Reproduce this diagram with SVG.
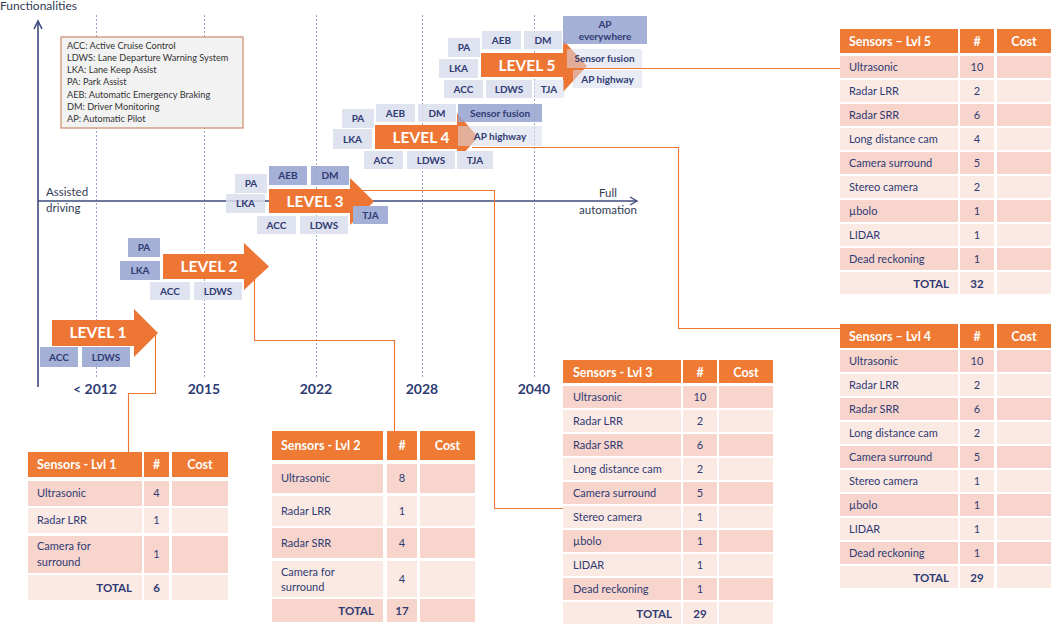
<svg xmlns="http://www.w3.org/2000/svg" width="1053" height="625" viewBox="0 0 1053 625">
<style>
text{font-family:Lato,"Liberation Sans",sans-serif}
.grid{stroke:#9aa3c4;stroke-width:1;stroke-dasharray:2 2;fill:none}
.axis{stroke:#3d4a7e;stroke-width:1.6;fill:none}
.lbl{font-size:11.5px;fill:#333a55}
.yr{font-size:14px;font-weight:bold;fill:#2f3b73;text-anchor:middle}
.m{fill:#95a2d0;fill-opacity:.85}
.l{fill:#d9ddec;fill-opacity:.85}
.ov{fill:#d9ddec;fill-opacity:.55}
.bt{font-size:10px;font-weight:bold;fill:#2f3b73;text-anchor:middle}
.arr{fill:#ee7634}
.lvl{font-size:15.5px;font-weight:bold;fill:#fff;text-anchor:middle}
.conn{stroke:#ed7430;stroke-width:1.1;fill:none}
.th{fill:#ee7a33}
.d{fill:#f8d5cc}
.s{fill:#fbe9e4}
.tht{font-size:12.5px;font-weight:bold;fill:#fff}
.thc{font-size:12.5px;font-weight:bold;fill:#fff;text-anchor:middle}
.td{font-size:11px;fill:#2f3b73}
.tn{font-size:11px;fill:#2f3b73;text-anchor:middle}
.tot{font-size:11.5px;font-weight:bold;fill:#2f3b73;text-anchor:end}
.totn{font-size:11.5px;font-weight:bold;fill:#2f3b73;text-anchor:middle}
.lg{font-size:9.2px;fill:#333}
</style>

<g id="axes">
  <line class="grid" x1="96.5" y1="15" x2="96.5" y2="378"/>
  <line class="grid" x1="204.5" y1="15" x2="204.5" y2="378"/>
  <line class="grid" x1="316.5" y1="15" x2="316.5" y2="378"/>
  <line class="grid" x1="422.5" y1="15" x2="422.5" y2="378"/>
  <line class="grid" x1="534.5" y1="15" x2="534.5" y2="378"/>
  <line class="axis" x1="38" y1="387" x2="38" y2="23"/>
  <path d="M34,29 L38,21 L42,29" fill="none" stroke="#3d4a7e" stroke-width="1.6"/>
  <line class="axis" x1="38" y1="201" x2="636" y2="201"/>
  <path d="M630,197 L637,201 L630,205" fill="none" stroke="#3d4a7e" stroke-width="1.4"/>
  <text class="lbl" x="0" y="10" style="font-size:12px">Functionalities</text>
  <text class="lbl" x="46" y="196">Assisted</text>
  <text class="lbl" x="46" y="212">driving</text>
  <text class="lbl" x="608" y="197" text-anchor="middle">Full</text>
  <text class="lbl" x="608" y="214" text-anchor="middle">automation</text>
  <text class="yr" x="95" y="394">&lt; 2012</text>
  <text class="yr" x="204" y="394">2015</text>
  <text class="yr" x="316" y="394">2022</text>
  <text class="yr" x="422" y="394">2028</text>
  <text class="yr" x="534" y="394">2040</text>
</g>

<g id="connectors">
  <path class="conn" d="M155.5,335 V393.5 H128.5 V452"/>
  <path class="conn" d="M254.5,280 V340.5 H394.5 V431"/>
  <path class="conn" d="M360,190.5 H494.5 V508.5 H565"/>
  <path class="conn" d="M472,147.5 H678.5 V328.5 H840"/>
  <path class="conn" d="M580,68.5 H840"/>
</g>

<g id="legend">
  <rect x="61" y="37" width="182" height="91" fill="#f2f2f2" stroke="#c98a66" stroke-width="1.2"/>
  <text class="lg" x="67" y="49">ACC: Active Cruise Control</text>
  <text class="lg" x="67" y="61">LDWS: Lane Departure Warning System</text>
  <text class="lg" x="67" y="73">LKA: Lane Keep Assist</text>
  <text class="lg" x="67" y="85">PA: Park Assist</text>
  <text class="lg" x="67" y="98">AEB: Automatic Emergency Braking</text>
  <text class="lg" x="67" y="110">DM: Driver Monitoring</text>
  <text class="lg" x="67" y="122">AP: Automatic Pilot</text>
</g>

<g id="level1">
  <polygon class="arr" points="52,320 134,320 134,309 158,333 134,357 134,346 52,346"/>
  <text class="lvl" x="98" y="338">LEVEL 1</text>
  <rect class="m" x="40" y="347" width="38" height="20"/><text class="bt" x="59" y="360.5">ACC</text>
  <rect class="m" x="82" y="347" width="48" height="20"/><text class="bt" x="106" y="360.5">LDWS</text>
</g>

<g id="level2">
  <polygon class="arr" points="163,254 244,254 244,243 269,266.5 244,290 244,279 163,279"/>
  <text class="lvl" x="209" y="272">LEVEL 2</text>
  <rect class="m" x="128" y="238" width="32" height="19"/><text class="bt" x="144" y="251">PA</text>
  <rect class="m" x="120" y="261" width="40" height="19"/><text class="bt" x="140" y="274">LKA</text>
  <rect class="l" x="150" y="282" width="40" height="18"/><text class="bt" x="170" y="294.5">ACC</text>
  <rect class="l" x="194" y="282" width="48" height="18"/><text class="bt" x="218" y="294.5">LDWS</text>
</g>

<g id="level3">
  <polygon class="arr" points="269,189 350,189 350,178 374,201.5 350,225 350,213 269,213"/>
  <text class="lvl" x="315" y="207">LEVEL 3</text>
  <rect class="l" x="235" y="174" width="32" height="19"/><text class="bt" x="251" y="187">PA</text>
  <rect class="m" x="269" y="166" width="38" height="19"/><text class="bt" x="288" y="179">AEB</text>
  <rect class="m" x="311" y="166" width="38" height="19"/><text class="bt" x="330" y="179">DM</text>
  <rect class="l" x="226" y="194" width="39" height="19"/><text class="bt" x="245.5" y="207">LKA</text>
  <rect class="l" x="257" y="216" width="39" height="18"/><text class="bt" x="276.5" y="228.5">ACC</text>
  <rect class="l" x="300" y="216" width="48" height="18"/><text class="bt" x="324" y="228.5">LDWS</text>
  <rect x="353" y="206" width="35" height="18" fill="#a5b0d7"/><text class="bt" x="370.5" y="218.5">TJA</text>
</g>

<g id="level4">
  <polygon class="arr" points="375,125 457,125 457,113 478,137 457,161 457,149 375,149"/>
  <text class="lvl" x="421" y="143">LEVEL 4</text>
  <rect class="l" x="342" y="109" width="32" height="19"/><text class="bt" x="358" y="122">PA</text>
  <rect class="l" x="376" y="104" width="39" height="18"/><text class="bt" x="395.5" y="116.5">AEB</text>
  <rect class="l" x="418" y="104" width="38" height="18"/><text class="bt" x="437" y="116.5">DM</text>
  <rect class="m" x="458" y="104" width="84" height="18"/><text class="bt" x="500" y="116.5">Sensor fusion</text>
  <rect class="l" x="333" y="129" width="39" height="20"/><text class="bt" x="352.5" y="142.5">LKA</text>
  <rect class="ov" x="458" y="126" width="84" height="20"/><text class="bt" x="500" y="139.5">AP highway</text>
  <rect class="l" x="364" y="151" width="39" height="18"/><text class="bt" x="383.5" y="163.5">ACC</text>
  <rect class="l" x="407" y="151" width="48" height="18"/><text class="bt" x="431" y="163.5">LDWS</text>
  <rect x="457" y="151" width="36" height="18" fill="#dfe2ef"/><text class="bt" x="475" y="163.5">TJA</text>
</g>

<g id="level5">
  <polygon class="arr" points="481,53 563,53 563,40 587,66 563,92 563,77 481,77"/>
  <text class="lvl" x="527" y="71">LEVEL 5</text>
  <rect class="m" x="563" y="16" width="84" height="28"/><text class="bt" x="605" y="28">AP</text><text class="bt" x="605" y="40">everywhere</text>
  <rect class="l" x="448" y="38" width="32" height="19"/><text class="bt" x="464" y="51">PA</text>
  <rect class="l" x="482" y="31" width="39" height="18"/><text class="bt" x="501.5" y="43.5">AEB</text>
  <rect class="l" x="524" y="31" width="38" height="18"/><text class="bt" x="543" y="43.5">DM</text>
  <rect class="l" x="439" y="59" width="39" height="19"/><text class="bt" x="458.5" y="72">LKA</text>
  <rect class="ov" x="567" y="49" width="75" height="19"/><text class="bt" x="604.5" y="62">Sensor fusion</text>
  <rect class="ov" x="573" y="70" width="69" height="18"/><text class="bt" x="607.5" y="82.5">AP highway</text>
  <rect class="l" x="444" y="80" width="39" height="18"/><text class="bt" x="463.5" y="92.5">ACC</text>
  <rect class="l" x="486" y="80" width="46" height="18"/><text class="bt" x="509" y="92.5">LDWS</text>
  <rect class="ov" x="534" y="80" width="30" height="18"/><text class="bt" x="549" y="92.5">TJA</text>
</g>

<g id="table1">
  <rect class="th" x="28" y="452" width="114" height="25"/><rect class="th" x="144" y="452" width="25" height="25"/><rect class="th" x="172" y="452" width="56" height="25"/>
  <text class="tht" x="37" y="469">Sensors - Lvl 1</text><text class="thc" x="156.5" y="469">#</text><text class="thc" x="200" y="469">Cost</text>
  <rect class="d" x="28" y="481" width="114" height="25"/><rect class="d" x="144" y="481" width="25" height="25"/><rect class="d" x="172" y="481" width="56" height="25"/>
  <text class="td" x="37" y="497">Ultrasonic</text><text class="tn" x="156.5" y="497">4</text>
  <rect class="s" x="28" y="508" width="114" height="25"/><rect class="s" x="144" y="508" width="25" height="25"/><rect class="s" x="172" y="508" width="56" height="25"/>
  <text class="td" x="37" y="524">Radar LRR</text><text class="tn" x="156.5" y="524">1</text>
  <rect class="d" x="28" y="536" width="114" height="37"/><rect class="d" x="144" y="536" width="25" height="37"/><rect class="d" x="172" y="536" width="56" height="37"/>
  <text class="td" x="37" y="550">Camera for</text><text class="td" x="37" y="566">surround</text><text class="tn" x="156.5" y="558">1</text>
  <rect class="s" x="28" y="575" width="114" height="25"/><rect class="s" x="144" y="575" width="25" height="25"/><rect class="s" x="172" y="575" width="56" height="25"/>
  <text class="tot" x="132" y="592">TOTAL</text><text class="totn" x="156.5" y="592">6</text>
</g>

<g id="table2">
  <rect class="th" x="272" y="431" width="111" height="29"/><rect class="th" x="387" y="431" width="30" height="29"/><rect class="th" x="420" y="431" width="55" height="29"/>
  <text class="tht" x="281" y="450">Sensors - Lvl 2</text><text class="thc" x="402" y="450">#</text><text class="thc" x="447.5" y="450">Cost</text>
  <rect class="d" x="272" y="464" width="111" height="29"/><rect class="d" x="387" y="464" width="30" height="29"/><rect class="d" x="420" y="464" width="55" height="29"/>
  <text class="td" x="281" y="482">Ultrasonic</text><text class="tn" x="402" y="482">8</text>
  <rect class="s" x="272" y="496" width="111" height="30"/><rect class="s" x="387" y="496" width="30" height="30"/><rect class="s" x="420" y="496" width="55" height="30"/>
  <text class="td" x="281" y="515">Radar LRR</text><text class="tn" x="402" y="515">1</text>
  <rect class="d" x="272" y="528" width="111" height="30"/><rect class="d" x="387" y="528" width="30" height="30"/><rect class="d" x="420" y="528" width="55" height="30"/>
  <text class="td" x="281" y="547">Radar SRR</text><text class="tn" x="402" y="547">4</text>
  <rect class="s" x="272" y="561" width="111" height="36"/><rect class="s" x="387" y="561" width="30" height="36"/><rect class="s" x="420" y="561" width="55" height="36"/>
  <text class="td" x="281" y="576">Camera for</text><text class="td" x="281" y="591">surround</text><text class="tn" x="402" y="583">4</text>
  <rect class="d" x="272" y="599" width="111" height="23"/><rect class="d" x="387" y="599" width="30" height="23"/><rect class="d" x="420" y="599" width="55" height="23"/>
  <text class="tot" x="374" y="615">TOTAL</text><text class="totn" x="402" y="615">17</text>
</g>

<g id="table3">
  <rect class="th" x="563" y="360" width="118" height="23"/><rect class="th" x="683" y="360" width="34" height="23"/><rect class="th" x="719" y="360" width="54" height="23"/>
  <text class="tht" x="573" y="377">Sensors - Lvl 3</text><text class="thc" x="700" y="377">#</text><text class="thc" x="746" y="377">Cost</text>
  <g class="d"><rect x="563" y="386" width="118" height="22"/><rect x="683" y="386" width="34" height="22"/><rect x="719" y="386" width="54" height="22"/></g>
  <g class="s"><rect x="563" y="410" width="118" height="22"/><rect x="683" y="410" width="34" height="22"/><rect x="719" y="410" width="54" height="22"/></g>
  <g class="d"><rect x="563" y="434" width="118" height="22"/><rect x="683" y="434" width="34" height="22"/><rect x="719" y="434" width="54" height="22"/></g>
  <g class="s"><rect x="563" y="458" width="118" height="22"/><rect x="683" y="458" width="34" height="22"/><rect x="719" y="458" width="54" height="22"/></g>
  <g class="d"><rect x="563" y="482" width="118" height="22"/><rect x="683" y="482" width="34" height="22"/><rect x="719" y="482" width="54" height="22"/></g>
  <g class="s"><rect x="563" y="506" width="118" height="22"/><rect x="683" y="506" width="34" height="22"/><rect x="719" y="506" width="54" height="22"/></g>
  <g class="d"><rect x="563" y="530" width="118" height="22"/><rect x="683" y="530" width="34" height="22"/><rect x="719" y="530" width="54" height="22"/></g>
  <g class="s"><rect x="563" y="554" width="118" height="22"/><rect x="683" y="554" width="34" height="22"/><rect x="719" y="554" width="54" height="22"/></g>
  <g class="d"><rect x="563" y="578" width="118" height="22"/><rect x="683" y="578" width="34" height="22"/><rect x="719" y="578" width="54" height="22"/></g>
  <g class="s"><rect x="563" y="602" width="118" height="22"/><rect x="683" y="602" width="34" height="22"/><rect x="719" y="602" width="54" height="22"/></g>
  <text class="td" x="573" y="401">Ultrasonic</text><text class="tn" x="700" y="401">10</text>
  <text class="td" x="573" y="425">Radar LRR</text><text class="tn" x="700" y="425">2</text>
  <text class="td" x="573" y="449">Radar SRR</text><text class="tn" x="700" y="449">6</text>
  <text class="td" x="573" y="473">Long distance cam</text><text class="tn" x="700" y="473">2</text>
  <text class="td" x="573" y="497">Camera surround</text><text class="tn" x="700" y="497">5</text>
  <text class="td" x="573" y="521">Stereo camera</text><text class="tn" x="700" y="521">1</text>
  <text class="td" x="573" y="545">µbolo</text><text class="tn" x="700" y="545">1</text>
  <text class="td" x="573" y="569">LIDAR</text><text class="tn" x="700" y="569">1</text>
  <text class="td" x="573" y="593">Dead reckoning</text><text class="tn" x="700" y="593">1</text>
  <text class="tot" x="672" y="618">TOTAL</text><text class="totn" x="700" y="618">29</text>
</g>

<g id="table5">
  <rect class="th" x="840" y="29" width="118" height="24"/><rect class="th" x="960" y="29" width="34" height="24"/><rect class="th" x="997" y="29" width="54" height="24"/>
  <text class="tht" x="849" y="46">Sensors – Lvl 5</text><text class="thc" x="977" y="46">#</text><text class="thc" x="1024" y="46">Cost</text>
  <g class="d"><rect x="840" y="56" width="118" height="22"/><rect x="960" y="56" width="34" height="22"/><rect x="997" y="56" width="54" height="22"/></g>
  <g class="s"><rect x="840" y="80" width="118" height="22"/><rect x="960" y="80" width="34" height="22"/><rect x="997" y="80" width="54" height="22"/></g>
  <g class="d"><rect x="840" y="104" width="118" height="22"/><rect x="960" y="104" width="34" height="22"/><rect x="997" y="104" width="54" height="22"/></g>
  <g class="s"><rect x="840" y="128" width="118" height="22"/><rect x="960" y="128" width="34" height="22"/><rect x="997" y="128" width="54" height="22"/></g>
  <g class="d"><rect x="840" y="152" width="118" height="22"/><rect x="960" y="152" width="34" height="22"/><rect x="997" y="152" width="54" height="22"/></g>
  <g class="s"><rect x="840" y="176" width="118" height="22"/><rect x="960" y="176" width="34" height="22"/><rect x="997" y="176" width="54" height="22"/></g>
  <g class="d"><rect x="840" y="200" width="118" height="22"/><rect x="960" y="200" width="34" height="22"/><rect x="997" y="200" width="54" height="22"/></g>
  <g class="s"><rect x="840" y="224" width="118" height="22"/><rect x="960" y="224" width="34" height="22"/><rect x="997" y="224" width="54" height="22"/></g>
  <g class="d"><rect x="840" y="248" width="118" height="22"/><rect x="960" y="248" width="34" height="22"/><rect x="997" y="248" width="54" height="22"/></g>
  <g class="s"><rect x="840" y="272" width="118" height="22"/><rect x="960" y="272" width="34" height="22"/><rect x="997" y="272" width="54" height="22"/></g>
  <text class="td" x="849" y="71">Ultrasonic</text><text class="tn" x="977" y="71">10</text>
  <text class="td" x="849" y="95">Radar LRR</text><text class="tn" x="977" y="95">2</text>
  <text class="td" x="849" y="119">Radar SRR</text><text class="tn" x="977" y="119">6</text>
  <text class="td" x="849" y="143">Long distance cam</text><text class="tn" x="977" y="143">4</text>
  <text class="td" x="849" y="167">Camera surround</text><text class="tn" x="977" y="167">5</text>
  <text class="td" x="849" y="191">Stereo camera</text><text class="tn" x="977" y="191">2</text>
  <text class="td" x="849" y="215">µbolo</text><text class="tn" x="977" y="215">1</text>
  <text class="td" x="849" y="239">LIDAR</text><text class="tn" x="977" y="239">1</text>
  <text class="td" x="849" y="263">Dead reckoning</text><text class="tn" x="977" y="263">1</text>
  <text class="tot" x="949" y="288">TOTAL</text><text class="totn" x="977" y="288">32</text>
</g>

<g id="table4">
  <rect class="th" x="840" y="324" width="118" height="24"/><rect class="th" x="960" y="324" width="34" height="24"/><rect class="th" x="997" y="324" width="54" height="24"/>
  <text class="tht" x="849" y="341">Sensors – Lvl 4</text><text class="thc" x="977" y="341">#</text><text class="thc" x="1024" y="341">Cost</text>
  <g class="d"><rect x="840" y="350" width="118" height="22"/><rect x="960" y="350" width="34" height="22"/><rect x="997" y="350" width="54" height="22"/></g>
  <g class="s"><rect x="840" y="374" width="118" height="22"/><rect x="960" y="374" width="34" height="22"/><rect x="997" y="374" width="54" height="22"/></g>
  <g class="d"><rect x="840" y="398" width="118" height="22"/><rect x="960" y="398" width="34" height="22"/><rect x="997" y="398" width="54" height="22"/></g>
  <g class="s"><rect x="840" y="422" width="118" height="22"/><rect x="960" y="422" width="34" height="22"/><rect x="997" y="422" width="54" height="22"/></g>
  <g class="d"><rect x="840" y="446" width="118" height="22"/><rect x="960" y="446" width="34" height="22"/><rect x="997" y="446" width="54" height="22"/></g>
  <g class="s"><rect x="840" y="470" width="118" height="22"/><rect x="960" y="470" width="34" height="22"/><rect x="997" y="470" width="54" height="22"/></g>
  <g class="d"><rect x="840" y="494" width="118" height="22"/><rect x="960" y="494" width="34" height="22"/><rect x="997" y="494" width="54" height="22"/></g>
  <g class="s"><rect x="840" y="518" width="118" height="22"/><rect x="960" y="518" width="34" height="22"/><rect x="997" y="518" width="54" height="22"/></g>
  <g class="d"><rect x="840" y="542" width="118" height="22"/><rect x="960" y="542" width="34" height="22"/><rect x="997" y="542" width="54" height="22"/></g>
  <g class="s"><rect x="840" y="566" width="118" height="22"/><rect x="960" y="566" width="34" height="22"/><rect x="997" y="566" width="54" height="22"/></g>
  <text class="td" x="849" y="365">Ultrasonic</text><text class="tn" x="977" y="365">10</text>
  <text class="td" x="849" y="389">Radar LRR</text><text class="tn" x="977" y="389">2</text>
  <text class="td" x="849" y="413">Radar SRR</text><text class="tn" x="977" y="413">6</text>
  <text class="td" x="849" y="437">Long distance cam</text><text class="tn" x="977" y="437">2</text>
  <text class="td" x="849" y="461">Camera surround</text><text class="tn" x="977" y="461">5</text>
  <text class="td" x="849" y="485">Stereo camera</text><text class="tn" x="977" y="485">1</text>
  <text class="td" x="849" y="509">µbolo</text><text class="tn" x="977" y="509">1</text>
  <text class="td" x="849" y="533">LIDAR</text><text class="tn" x="977" y="533">1</text>
  <text class="td" x="849" y="557">Dead reckoning</text><text class="tn" x="977" y="557">1</text>
  <text class="tot" x="949" y="582">TOTAL</text><text class="totn" x="977" y="582">29</text>
</g>
</svg>
